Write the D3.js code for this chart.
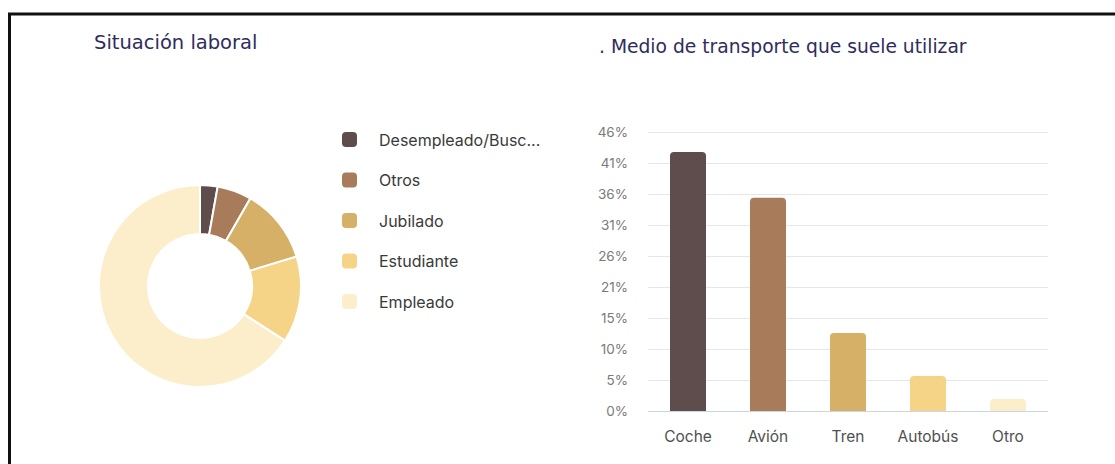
<!DOCTYPE html>
<html>
<head>
<meta charset="utf-8">
<script src="https://cdn.jsdelivr.net/npm/d3@7"></script>
<style>
  body { margin: 0; background: #fff; }
  svg { display: block; }
</style>
</head>
<body>
<div id="chart"></div>
<script>
// Data
var jobLabels = ["Desempleado/Busc...", "Otros", "Jubilado", "Estudiante", "Empleado"];
var jobValues = [2.8, 5.5, 12.0, 13.8, 65.9];
var transportLabels = ["Coche", "Avión", "Tren", "Autobús", "Otro"];
var transportValues = [42.9, 35.3, 12.9, 5.8, 2.0];
var yTickLabels = ["0%", "5%", "10%", "15%", "21%", "26%", "31%", "36%", "41%", "46%"];
var yMax = 46.2;
var palette = ["#5f4c4c", "#a87b5a", "#d5b066", "#f5d488", "#fdeecb"];

var width = 1115, height = 464;
var titleColor = "#2f2c5c";

var svg = d3.select("#chart").append("svg")
  .attr("width", width).attr("height", height);

// frame (top + left edge)
svg.append("line").attr("x1", 8).attr("x2", width).attr("y1", 14).attr("y2", 14)
  .attr("stroke", "#111").attr("stroke-width", 3);
svg.append("line").attr("x1", 9.5).attr("x2", 9.5).attr("y1", 13).attr("y2", height)
  .attr("stroke", "#111").attr("stroke-width", 3);

// titles
svg.append("text").attr("x", 94).attr("y", 49)
  .attr("font-family", "'DejaVu Sans', sans-serif").attr("font-size", 19.5)
  .attr("fill", titleColor).text("Situación laboral");
svg.append("text").attr("x", 599).attr("y", 53)
  .attr("font-family", "'DejaVu Sans', sans-serif").attr("font-size", 18.7)
  .attr("fill", titleColor).text(". Medio de transporte que suele utilizar");

//Donut
var pie = d3.pie().sort(null).value(function(d){ return d; });
var arc = d3.arc().innerRadius(52).outerRadius(101);
var donut = svg.append("g").attr("transform", "translate(200,286)");
donut.selectAll("path")
  .data(pie(jobValues))
  .enter()
  .append("path")
  .attr("d", arc)
  .attr("fill", function(d, i){ return palette[i]; })
  .attr("stroke", "#fff")
  .attr("stroke-width", 2);

//Legend
var legend = svg.append("g").attr("transform", "translate(342,139)");
var item = legend.selectAll("g")
  .data(jobLabels)
  .enter()
  .append("g")
  .attr("transform", function(d, i){ return "translate(0," + (i * 40.5) + ")"; });
item.append("rect")
  .attr("x", 0).attr("y", -7).attr("width", 15).attr("height", 15)
  .attr("rx", 4)
  .attr("fill", function(d, i){ return palette[i]; });
item.append("text")
  .attr("x", 37).attr("y", 1).attr("dy", "0.35em")
  .attr("font-family", "Inter, 'Noto Sans', sans-serif").attr("font-size", 16)
  .attr("fill", "#3a3a3a")
  .text(function(d){ return d; });

//Bar chart
var bx0 = 648, bx1 = 1048, by0 = 411, by1 = 132;
var x = d3.scaleBand().domain(transportLabels).range([bx0, bx1])
  .paddingInner(0.55).paddingOuter(0.275);
var y = d3.scaleLinear().domain([0, yMax]).range([by0, by1]);
var tickVals = yTickLabels.map(function(d, i){ return i * yMax / (yTickLabels.length - 1); });

var grid = svg.append("g");
grid.selectAll("line")
  .data(tickVals)
  .enter()
  .append("line")
  .attr("x1", bx0).attr("x2", bx1)
  .attr("y1", function(d){ return Math.round(y(d)) + 0.5; })
  .attr("y2", function(d){ return Math.round(y(d)) + 0.5; })
  .attr("stroke", function(d, i){ return i == 0 ? "#c9d5e8" : "#e6e6e6"; })
  .attr("stroke-width", 1);

var yAxis = svg.append("g")
  .attr("transform", "translate(" + 628 + ",0)")
  .call(d3.axisLeft(y).tickValues(tickVals).tickSize(0)
        .tickFormat(function(d, i){ return yTickLabels[i]; }));
yAxis.select(".domain").remove();
yAxis.selectAll("text")
  .attr("x", 0)
  .attr("font-family", "Inter, 'Noto Sans', sans-serif").attr("font-size", 13.5)
  .attr("fill", "#7a7a7a");

function topRounded(x0, y0, w, h, r) {
  r = Math.min(r, h, w / 2);
  return "M" + x0 + "," + (y0 + h) +
    "V" + (y0 + r) +
    "Q" + x0 + "," + y0 + " " + (x0 + r) + "," + y0 +
    "H" + (x0 + w - r) +
    "Q" + (x0 + w) + "," + y0 + " " + (x0 + w) + "," + (y0 + r) +
    "V" + (y0 + h) + "Z";
}

svg.append("g").selectAll("path")
  .data(transportValues)
  .enter()
  .append("path")
  .attr("d", function(d, i){
    var xx = x(transportLabels[i]);
    return topRounded(xx, y(d), x.bandwidth(), by0 - y(d), 4);
  })
  .attr("fill", function(d, i){ return palette[i]; });

var xAxis = svg.append("g")
  .attr("transform", "translate(0," + by0 + ")")
  .call(d3.axisBottom(x).tickSize(0).tickPadding(20));
xAxis.select(".domain").remove();
xAxis.selectAll("text")
  .attr("font-family", "Inter, 'Noto Sans', sans-serif").attr("font-size", 15.5)
  .attr("fill", "#505050");
</script>
</body>
</html>
